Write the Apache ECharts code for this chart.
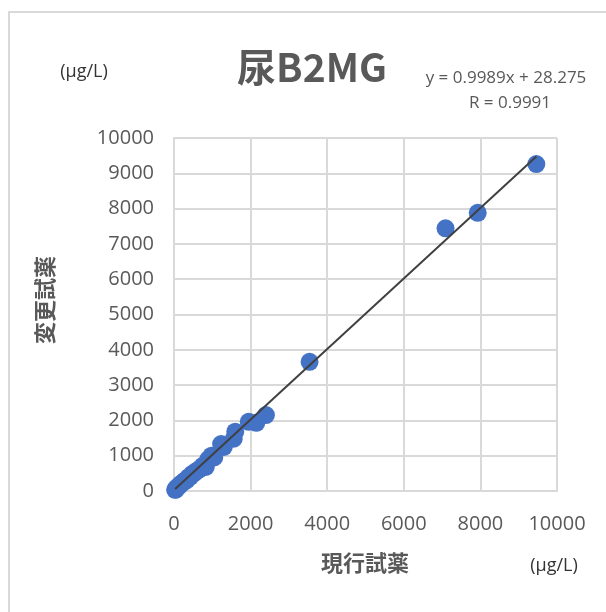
<!DOCTYPE html>
<html>
<head>
<meta charset="utf-8">
<script src="https://cdn.jsdelivr.net/npm/echarts@6/dist/echarts.min.js"></script>
<style>
  html, body { margin: 0; padding: 0; background: #ffffff; }
  #main { width: 606px; height: 612px; }
</style>
</head>
<body>
<div id="main"></div>
<script>
// 現行試薬 (x) と 変更試薬 (y) の測定値
var xVals = [30, 45, 60, 80, 100, 120, 150, 180, 210, 250, 290, 330, 380, 420, 470, 520, 580, 640, 700, 760, 830, 900, 980, 1050, 1230, 1300, 1560, 1600, 1950, 2150, 2400, 3540, 7090, 7930, 9460];
var yVals = [35, 40, 70, 95, 110, 140, 160, 200, 220, 260, 300, 310, 390, 400, 480, 500, 560, 600, 650, 720, 680, 900, 1000, 950, 1330, 1250, 1480, 1680, 1960, 1930, 2150, 3660, 7440, 7880, 9260];
var axisTicks = [0, 2000, 4000, 6000, 8000, 10000];
var yTicks = [0, 1000, 2000, 3000, 4000, 5000, 6000, 7000, 8000, 9000, 10000];
var slope = 0.9989;
var intercept = 28.275;

var points = xVals.map(function (x, i) { return [x, yVals[i]]; });
var xMin = Math.min.apply(null, xVals);
var xMax = Math.max.apply(null, xVals);
var trend = [[xMin, slope * xMin + intercept], [xMax, slope * xMax + intercept]];

var grey = '#595959';
var gridCol = '#d9d9d9';
var font = '"Open Sans", "Noto Sans CJK JP", sans-serif';
var plain = function (v) { return String(v); };

var chart = echarts.init(document.getElementById('main'), null, {renderer: 'canvas'});
chart.setOption({
    animation: false,
    grid: {left: 174, right: 49, top: 138, bottom: 121, containLabel: false},
    xAxis: {
        type: 'value',
        min: axisTicks[0],
        max: axisTicks[axisTicks.length - 1],
        interval: 2000,
        axisLine: {show: true, lineStyle: {color: gridCol, width: 2}},
        axisTick: {show: false},
        splitLine: {show: true, lineStyle: {color: gridCol, width: 2}},
        axisLabel: {color: grey, fontSize: 20, fontFamily: font, margin: 23, formatter: plain}
    },
    yAxis: {
        type: 'value',
        min: yTicks[0],
        max: yTicks[yTicks.length - 1],
        interval: 1000,
        axisLine: {show: true, lineStyle: {color: gridCol, width: 2}},
        axisTick: {show: false},
        splitLine: {show: true, lineStyle: {color: gridCol, width: 2}},
        axisLabel: {color: grey, fontSize: 20, fontFamily: font, margin: 20, formatter: plain}
    },
    series: [
        {
            type: 'scatter',
            data: points,
            symbolSize: 18,
            itemStyle: {color: '#4472c4', opacity: 1},
            z: 2
        },
        {
            type: 'line',
            data: trend,
            symbol: 'none',
            lineStyle: {color: '#404040', width: 2},
            z: 3
        }
    ],
    graphic: [
        // 枠線
        {type: 'rect', shape: {x: 9, y: 12, width: 700, height: 700}, style: {fill: 'none', stroke: gridCol, lineWidth: 2}, silent: true},
        {type: 'text', x: 312, y: 67, style: {text: '尿B2MG', fill: grey, font: 'bold 39px "Noto Sans CJK JP", sans-serif', textAlign: 'center', textVerticalAlign: 'middle'}},
        {type: 'text', x: 506, y: 78, style: {text: 'y = 0.9989x + 28.275', fill: grey, font: '17px ' + font, textAlign: 'center', textVerticalAlign: 'middle'}},
        {type: 'text', x: 510, y: 103, style: {text: 'R = 0.9991', fill: grey, font: '17px ' + font, textAlign: 'center', textVerticalAlign: 'middle'}},
        {type: 'text', x: 84, y: 72, style: {text: '(μg/L)', fill: '#333333', font: '18px ' + font, textAlign: 'center', textVerticalAlign: 'middle'}},
        {type: 'text', x: 554, y: 566, style: {text: '(μg/L)', fill: '#333333', font: '18px ' + font, textAlign: 'center', textVerticalAlign: 'middle'}},
        {type: 'text', x: 365, y: 563, style: {text: '現行試薬', fill: grey, font: 'bold 22px "Noto Sans CJK JP", sans-serif', textAlign: 'center', textVerticalAlign: 'middle'}},
        {type: 'text', x: 45, y: 300, rotation: Math.PI / 2, style: {text: '変更試薬', fill: grey, font: 'bold 22px "Noto Sans CJK JP", sans-serif', textAlign: 'center', textVerticalAlign: 'middle'}}
    ]
});
</script>
</body>
</html>
